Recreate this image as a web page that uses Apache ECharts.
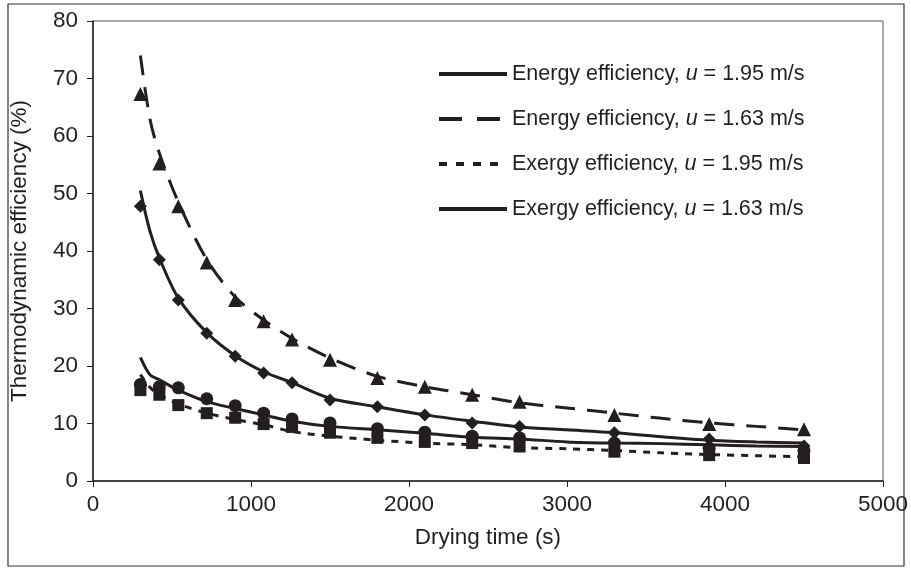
<!DOCTYPE html>
<html>
<head>
<meta charset="utf-8">
<script src="https://cdn.jsdelivr.net/npm/echarts@6/dist/echarts.min.js"></script>
<style>
  html, body { margin: 0; padding: 0; background: #fff; }
  #chart { width: 911px; height: 574px; }
</style>
</head>
<body>
<div id="chart"></div>
<script>
// 测量点的时间 (s)
var pointX = [300, 420, 540, 720, 900, 1080, 1260, 1500, 1800, 2100, 2400, 2700, 3300, 3900, 4500];
// 测量点
var energy163Pts = [67.3, 55.2, 47.8, 38, 31.5, 27.8, 24.6, 21.1, 17.9, 16.4, 15.0, 13.8, 11.5, 9.9, 9.0];
var energy195Pts = [47.8, 38.5, 31.5, 25.7, 21.7, 18.8, 17.1, 14.1, 12.9, 11.5, 10.1, 9.5, 8.4, 7.3, 6.1];
var exergy163Pts = [16.8, 16.4, 16.2, 14.3, 13.1, 11.8, 10.8, 10.1, 9.1, 8.5, 7.8, 7.5, 6.6, 5.7, 5.3];
var exergy195Pts = [15.8, 15.0, 13.2, 11.8, 11.0, 9.9, 9.4, 8.4, 7.5, 6.8, 6.6, 6.0, 5.1, 4.5, 4.0];

// 拟合曲线
var lineX = [300, 360, 420, 540, 720, 900, 1080, 1260, 1500, 1800, 2100, 2400, 2700, 3000, 3300, 3600, 3900, 4200, 4500];
var energy195Line = [50.5, 43.5, 38.8, 31.8, 25.8, 21.8, 19, 17.1, 14.4, 12.9, 11.5, 10.4, 9.4, 8.9, 8.4, 7.7, 7.1, 6.8, 6.6];
var energy163Line = [74, 63, 57, 48.5, 38.5, 32, 28, 24.8, 21.4, 18.2, 16.4, 15, 13.6, 12.7, 11.8, 10.9, 10.1, 9.5, 8.9];
var exergy195Line = [18.5, 16.3, 15.0, 13.4, 11.8, 10.7, 9.8, 8.6, 7.8, 7.1, 6.6, 6.3, 5.8, 5.6, 5.3, 4.9, 4.6, 4.4, 4.2];
var exergy163Line = [21.5, 18.5, 17.6, 15.8, 13.8, 12.6, 11.5, 10.4, 9.5, 8.9, 8.3, 7.6, 7.3, 6.8, 6.6, 6.5, 6.3, 6.1, 6.0];

var names = [
  'Energy efficiency, u = 1.95 m/s',
  'Energy efficiency, u = 1.63 m/s',
  'Exergy efficiency, u = 1.95 m/s',
  'Exergy efficiency, u = 1.63 m/s'
];

var ink = '#231f20';
var font = 'Liberation Sans, Arial, Helvetica, sans-serif';

function pairs(xs, ys) {
  return xs.map(function (x, i) { return [x, ys[i]]; });
}

function lineSeries(name, ys, type) {
  return {
    name: name,
    type: 'line',
    data: pairs(lineX, ys),
    smooth: 0.3,
    symbol: 'none',
    silent: true,
    lineStyle: { color: ink, width: 3, type: type },
    itemStyle: { color: ink },
    z: 3
  };
}

function pointSeries(ys, symbol, size) {
  return {
    type: 'scatter',
    data: pairs(pointX, ys),
    symbol: symbol,
    symbolSize: size,
    itemStyle: { color: ink, opacity: 1 },
    z: 4
  };
}

(function () {
  var myChart = echarts.init(document.getElementById('chart'));
  var option = {
    animation: false,
    textStyle: { fontFamily: font, color: ink },
    grid: {
      left: 92,
      right: 28,
      top: 21,
      bottom: 93,
      show: true,
      borderColor: '#555',
      borderWidth: 1
    },
    // 外框
    graphic: [{
      type: 'rect',
      shape: { x: 8, y: 4, width: 896, height: 562 },
      style: { fill: 'none', stroke: '#333', lineWidth: 1.2 },
      silent: true
    }],
    legend: {
      data: [
        { name: names[0], lineStyle: { width: 4, type: 'solid' } },
        { name: names[1], lineStyle: { width: 4, type: [23, 15] } },
        { name: names[2], lineStyle: { width: 4, type: [8, 9] } },
        { name: names[3], lineStyle: { width: 4, type: 'solid' } }
      ],
      orient: 'vertical',
      left: 432,
      top: 58,
      itemWidth: 68,
      itemHeight: 14,
      itemGap: 23,
      // 图例里不显示圆点
      itemStyle: { opacity: 0 },
      formatter: function (n) {
        var parts = n.split(', u');
        return '{a|' + parts[0] + ', }{i|u}{a|' + parts[1] + '}';
      },
      textStyle: {
        color: ink,
        rich: {
          a: { fontSize: 21.5, fontFamily: font, color: ink },
          i: { fontSize: 21.5, fontFamily: font, color: ink, fontStyle: 'italic' }
        }
      }
    },
    xAxis: {
      type: 'value',
      min: 0,
      max: 5000,
      interval: 1000,
      name: 'Drying time (s)',
      nameLocation: 'middle',
      nameGap: 45,
      nameTextStyle: { fontSize: 22.5, color: ink },
      axisLine: { lineStyle: { color: ink, width: 1.5 } },
      axisTick: { show: true, length: 6, lineStyle: { color: ink } },
      axisLabel: { fontSize: 22.5, color: ink, margin: 12, formatter: function (v) { return String(v); } },
      splitLine: { show: false }
    },
    yAxis: {
      type: 'value',
      min: 0,
      max: 80,
      interval: 10,
      name: 'Thermodynamic efficiency (%)',
      nameLocation: 'middle',
      nameGap: 62,
      nameTextStyle: { fontSize: 22.5, color: ink },
      axisLine: { show: true, lineStyle: { color: ink, width: 1.5 } },
      axisTick: { show: true, length: 6, lineStyle: { color: ink } },
      axisLabel: { fontSize: 22.5, color: ink, margin: 15 },
      splitLine: { show: false }
    },
    series: [
      lineSeries(names[0], energy195Line, 'solid'),
      lineSeries(names[1], energy163Line, [20, 12]),
      lineSeries(names[2], exergy195Line, [7, 7]),
      lineSeries(names[3], exergy163Line, 'solid'),
      pointSeries(energy163Pts, 'triangle', 14),
      pointSeries(energy195Pts, 'diamond', 13),
      pointSeries(exergy195Pts, 'rect', 12),
      pointSeries(exergy163Pts, 'circle', 13)
    ]
  };
  myChart.setOption(option);
  window.addEventListener('resize', function () {
    myChart.resize();
  });
})();
</script>
</body>
</html>
